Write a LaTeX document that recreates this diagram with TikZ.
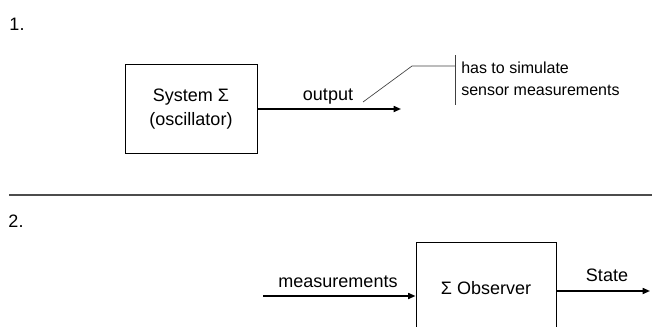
\documentclass[tikz,border=0pt]{standalone}
\usepackage{fontspec}
\setmainfont{Liberation Sans}
\usetikzlibrary{arrows.meta,positioning}
\begin{document}
\begin{tikzpicture}[x=0.75pt, y=-0.75pt, font=\fontsize{13.5}{18}\selectfont,
        block/.style = {draw, line width=0.75pt, align=center, inner sep=0pt},
        flow/.style = {line width=1.2pt, -{Triangle[length=5.5pt,width=4.5pt]}},
        lbl/.style = {inner sep=0pt}]
    \useasboundingbox (0,0) rectangle (653,326);
    \clip (0,0) rectangle (653,326);
    % part 1
    \node[lbl] (num1) at (17,24) {1.};
    \node[block, minimum width=99pt, minimum height=66.75pt] (sys) at (191,109) {System Σ\\(oscillator)};
    \coordinate (outEnd) at (401,109);
    \draw[flow] (sys) -- (outEnd);
    \node[lbl] (output) at (328,97) {output};
    \coordinate (callA) at (363,102);
    \coordinate (callB) at (412,66);
    \coordinate (barTop) at (455,55);
    \coordinate (barBot) at (455,105);
    \draw[line width=0.5pt, black!75] (callA) -- (callB) -- (callB -| barTop);
    \draw[line width=0.5pt, black!75] (barTop) -- (barBot);
    \node[lbl, anchor=west, align=left, font=\fontsize{12}{16.5}\selectfont] (note) at (461,79) {has to simulate\\sensor measurements};
    % separator
    \coordinate (sepL) at (9,195);
    \coordinate (sepR) at (652,195);
    \draw[line width=0.9pt, black!70] (sepL) -- (sepR);
    % part 2
    \node[lbl] (num2) at (16,221) {2.};
    \node[block, minimum width=105pt, minimum height=69pt] (obs) at (486,288) {Σ Observer};
    \coordinate (measIn) at (263,296);
    \coordinate (stateEnd) at (650,291);
    \draw[flow] (measIn) -- (measIn -| obs.west);
    \node[lbl] (meas) at (338,282) {measurements};
    \draw[flow] (obs.east |- stateEnd) -- (stateEnd);
    \node[lbl] (state) at (607,275) {State};
\end{tikzpicture}
\end{document}
